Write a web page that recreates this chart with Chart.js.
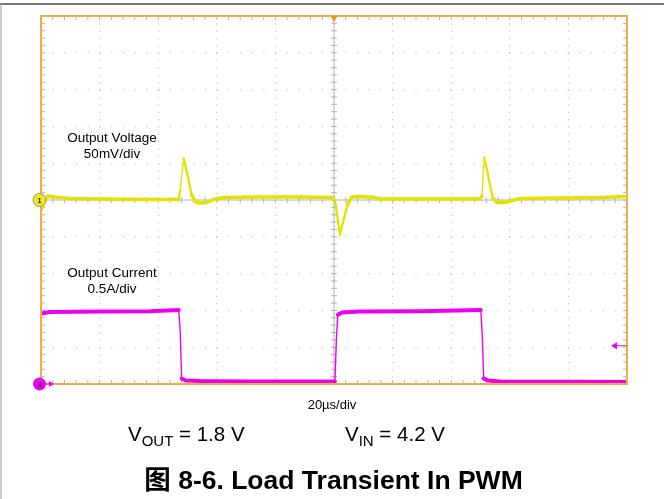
<!DOCTYPE html>
<html lang="zh">
<head>
  <meta charset="UTF-8">
  <title>Load Transient In PWM</title>
  <style>
    html, body { margin: 0; padding: 0; background: #fff; }
    #wrap { width: 664px; height: 499px; position: relative; }
  </style>
</head>
<body>
  <div id="wrap"><canvas id="scope"></canvas></div>

  <script src="https://cdn.jsdelivr.net/npm/chart.js"></script>
  <script>
    // time in microseconds (20us/div, trigger at 0)
    const vTime = [-99.8, -98.8, -97.8, -95.4, -90.3, -80, -66.4, -53, -52.5, -51.3, -50, -48.6, -47.2, -45.9, -43.4, -40.7, -37.3, -25.3, -11.7, -0.1,
                   0.6, 2, 3.3, 4.7, 6.1, 8.8, 13.9, 15.6, 29.3, 49.8, 50.5, 51.3, 52.9, 54.2, 55.6, 58.3, 60.7, 63.4, 77.1, 90.8, 100];
    // output voltage deviation in mV (50mV/div)
    const vOut = [-13.6, -4, 5.4, 4, 2, 1.4, 0.7, 0.7, 13.6, 57, 34, 7, -2.7, -4, -3.4, 1.4, 3.4, 4, 4, 3.4,
                  -7, -47.5, -27, -5.4, 4, 4.8, 3.4, 1.4, 1.4, 1.4, 5.4, 58, 27, 2.7, -3.4, -3.4, -0.7, 2, 2.7, 3.4, 4.8];

    const iTime = [-99.8, -97.1, -80, -62.9, -53, -52.5, -52, -50.6, -45.9, -28.8, 0.3, 0.8, 1.3, 2.6, 8.8, 29.3, 50.1, 50.6, 51.1, 52.5, 56.6, 100];
    // output current in A (0.5A/div)
    const iOut = [0.958, 0.978, 0.985, 0.99, 1.005, 0.727, 0.075, 0.048, 0.04, 0.034, 0.034, 0.59, 0.94, 0.97, 0.985, 0.99, 1.005, 0.66, 0.075, 0.048, 0.034, 0.027];

    const triggerLevel = 0.52; // A, ch3 trigger arrow

    const yellow = 'rgb(228,226,0)';
    const magenta = 'rgb(238,0,238)';
    const orange = 'rgb(243,172,72)';
    const FONT = '"Liberation Sans", Arial, "Noto Sans CJK SC", sans-serif';

    function pts(xs, ys) {
      return xs.map((x, i) => ({ x: x, y: ys[i] }));
    }

    // noisy traces look thick when flat, thin on fast edges
    function traceWidth(thick) {
      return c => {
        const dx = Math.abs(c.p1.x - c.p0.x) || 0.01;
        const r = Math.abs(c.p1.y - c.p0.y) / dx;
        if (r > 8) return 1.4;
        if (r > 2) return 2.3;
        return thick;
      };
    }

    // white page, outer frame, graticule extras, markers and captions
    const scopeDecor = {
      id: 'scopeDecor',
      beforeDraw(chart) {
        const ctx = chart.ctx;
        ctx.save();
        ctx.fillStyle = '#fff';
        ctx.fillRect(0, 0, chart.width, chart.height);
        ctx.strokeStyle = '#7a7a7a';
        ctx.lineWidth = 2;
        ctx.beginPath();
        ctx.moveTo(0, 4);
        ctx.lineTo(chart.width, 4);
        ctx.stroke();
        ctx.strokeStyle = '#9a9a9a';
        ctx.lineWidth = 1;
        ctx.beginPath();
        ctx.moveTo(1, 4);
        ctx.lineTo(1, chart.height);
        ctx.stroke();
        ctx.restore();
      },
      beforeDatasetsDraw(chart) {
        const { ctx, chartArea: a, scales } = chart;
        const xs = scales.x, ys = scales.y;
        const cx = xs.getPixelForValue(0);
        const cy = ys.getPixelForValue(0);
        const dx = (xs.getPixelForValue(20) - xs.getPixelForValue(0)) / 5;
        const dy = (ys.getPixelForValue(0) - ys.getPixelForValue(50)) / 5;
        ctx.save();
        ctx.strokeStyle = '#b4b4b4';
        ctx.lineWidth = 1;
        ctx.beginPath();
        ctx.moveTo(cx, a.top); ctx.lineTo(cx, a.bottom);
        ctx.moveTo(a.left, cy); ctx.lineTo(a.right, cy);
        // minor ticks on center lines and edges
        for (let k = 1; k < 50; k++) {
          const x = a.left + k * dx;
          ctx.moveTo(x, cy - 3); ctx.lineTo(x, cy + 3);
          ctx.moveTo(x, a.top); ctx.lineTo(x, a.top + 4);
          ctx.moveTo(x, a.bottom); ctx.lineTo(x, a.bottom - 4);
        }
        for (let k = 1; k < 50; k++) {
          const y = a.top + k * dy;
          ctx.moveTo(cx - 3, y); ctx.lineTo(cx + 3, y);
          ctx.moveTo(a.left, y); ctx.lineTo(a.left + 4, y);
          ctx.moveTo(a.right, y); ctx.lineTo(a.right - 4, y);
        }
        ctx.stroke();

        // captions inside the screen
        ctx.fillStyle = '#000';
        ctx.font = '13.5px ' + FONT;
        ctx.textAlign = 'center';
        ctx.fillText('Output Voltage', 112, 142);
        ctx.fillText('50mV/div', 112, 158);
        ctx.fillText('Output Current', 112, 277);
        ctx.fillText('0.5A/div', 112, 293);
        ctx.restore();
      },
      afterDraw(chart) {
        const { ctx, chartArea: a, scales } = chart;
        ctx.save();
        // orange screen frame
        ctx.strokeStyle = orange;
        ctx.lineWidth = 2;
        ctx.strokeRect(a.left, a.top, a.right - a.left, a.bottom - a.top);

        // trigger position marker
        const tx = scales.x.getPixelForValue(0);
        ctx.fillStyle = 'rgb(240,150,20)';
        ctx.beginPath();
        ctx.moveTo(tx - 3.5, a.top);
        ctx.lineTo(tx + 3.5, a.top);
        ctx.lineTo(tx, a.top + 6);
        ctx.closePath();
        ctx.fill();

        // trigger level arrow (ch3)
        const ty = scales.y2.getPixelForValue(triggerLevel);
        ctx.strokeStyle = magenta;
        ctx.fillStyle = magenta;
        ctx.lineWidth = 1;
        ctx.beginPath();
        ctx.moveTo(a.right - 12, ty); ctx.lineTo(a.right, ty);
        ctx.stroke();
        ctx.beginPath();
        ctx.moveTo(a.right - 16, ty);
        ctx.lineTo(a.right - 10, ty - 3.5);
        ctx.lineTo(a.right - 10, ty + 3.5);
        ctx.closePath();
        ctx.fill();

        // channel ground markers
        const y1 = scales.y.getPixelForValue(0);
        ctx.beginPath();
        ctx.arc(a.left - 1.5, y1, 6.5, 0, Math.PI * 2);
        ctx.fillStyle = 'rgb(238,232,40)';
        ctx.fill();
        ctx.strokeStyle = '#9a9a60';
        ctx.stroke();
        ctx.fillStyle = '#333';
        ctx.font = 'bold 8px ' + FONT;
        ctx.textAlign = 'center';
        ctx.textBaseline = 'middle';
        ctx.fillText('1', a.left - 1.5, y1 + 0.5);

        const y3 = scales.y2.getPixelForValue(0);
        ctx.strokeStyle = magenta;
        ctx.beginPath();
        ctx.moveTo(a.left + 4, y3); ctx.lineTo(a.left + 9, y3);
        ctx.stroke();
        ctx.fillStyle = magenta;
        ctx.beginPath();
        ctx.moveTo(a.left + 13, y3);
        ctx.lineTo(a.left + 8, y3 - 3);
        ctx.lineTo(a.left + 8, y3 + 3);
        ctx.closePath();
        ctx.fill();
        ctx.beginPath();
        ctx.arc(a.left - 1.5, y3, 6.5, 0, Math.PI * 2);
        ctx.fill();
        ctx.fillStyle = '#333';
        ctx.fillText('3', a.left - 1.5, y3 + 0.5);

        // text under the screen
        ctx.textBaseline = 'alphabetic';
        ctx.fillStyle = '#000';
        ctx.font = '13px ' + FONT;
        ctx.fillText('20\u00b5s/div', 332, 409);

        ctx.textAlign = 'left';
        function subLabel(x, base, main, sub, rest) {
          ctx.font = '20.5px ' + FONT;
          ctx.fillText(main, x, base);
          x += ctx.measureText(main).width;
          ctx.font = '15px ' + FONT;
          ctx.fillText(sub, x, base + 5);
          x += ctx.measureText(sub).width;
          ctx.font = '20.5px ' + FONT;
          ctx.fillText(rest, x, base);
        }
        subLabel(128, 441, 'V', 'OUT', ' = 1.8 V');
        subLabel(345, 441, 'V', 'IN', ' = 4.2 V');

        ctx.textAlign = 'center';
        ctx.font = 'bold 26.5px ' + FONT;
        ctx.fillText('\u56fe 8-6. Load Transient In PWM', 333.5, 489);
        ctx.restore();
      }
    };

    const ctx = document.getElementById('scope').getContext('2d');
    const chart = new Chart(ctx, {
      type: 'line',
      data: {
        datasets: [
          {
            label: 'Output Voltage',
            data: pts(vTime, vOut),
            yAxisID: 'y',
            borderColor: yellow,
            borderWidth: 3.5,
            borderJoinStyle: 'round',
            borderCapStyle: 'round',
            segment: { borderWidth: traceWidth(3.5) },
            pointRadius: 0,
            tension: 0
          },
          {
            label: 'Output Current',
            data: pts(iTime, iOut),
            yAxisID: 'y2',
            borderColor: magenta,
            borderWidth: 4,
            borderJoinStyle: 'round',
            borderCapStyle: 'round',
            segment: { borderWidth: traceWidth(4) },
            pointRadius: 0,
            tension: 0
          }
        ]
      },
      options: {
        responsive: true,
        maintainAspectRatio: false,
        animation: false,
        layout: { padding: { left: 41, top: 16, right: 37, bottom: 115 } },
        plugins: {
          legend: { display: false },
          tooltip: { enabled: false }
        },
        scales: {
          x: {
            type: 'linear',
            min: -100,
            max: 100,
            ticks: { display: false, stepSize: 20 },
            grid: { color: '#c4c4c4', lineWidth: 1.2, drawTicks: false },
            border: { display: false, dash: [1.2, 6.16] }
          },
          y: {
            min: -250,
            max: 250,
            ticks: { display: false, stepSize: 50 },
            grid: { color: '#c4c4c4', lineWidth: 1.2, drawTicks: false },
            border: { display: false, dash: [1.2, 10.5] }
          },
          y2: {
            position: 'right',
            min: 0,
            max: 5,
            ticks: { display: false, stepSize: 0.5 },
            grid: { drawOnChartArea: false, drawTicks: false },
            border: { display: false }
          }
        }
      },
      plugins: [scopeDecor]
    });
  </script>
</body>
</html>
